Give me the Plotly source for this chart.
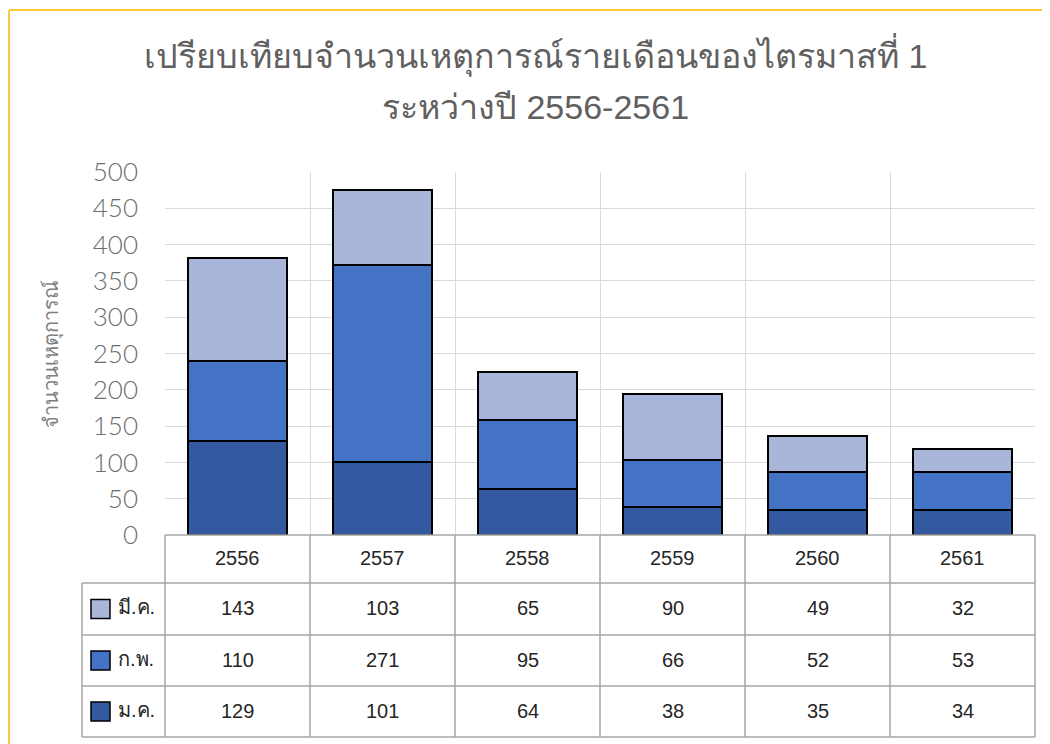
import plotly.graph_objects as go

# data
years = ['2556', '2557', '2558', '2559', '2560', '2561']
months = ['ม.ค.', 'ก.พ.', 'มี.ค.']
jan = [129, 101, 64, 38, 35, 34]
feb = [110, 271, 95, 66, 52, 53]
mar = [143, 103, 65, 90, 49, 32]
colors = ['#335AA1', '#4472C4', '#A9B6DA']

title_lines = ['เปรียบเทียบจำนวนเหตุการณ์รายเดือนของไตรมาสที่ 1', 'ระหว่างปี 2556-2561']
y_title = 'จำนวนเหตุการณ์'

# page body adds an 8px offset, so the figure is drawn 8px smaller
OFF = 8
W, H = 1050 - OFF, 744 - OFF
PL, PR, PT, PB = 165, 1035, 172, 535  # plot area in screen pixels
L, R, T, B = PL - OFF, W - (PR - OFF), PT - OFF, H - (PB - OFF)
pw, ph = PR - PL, PB - PT


def px_x(x):
    return (x - PL) / pw


def px_y(y):
    return (PB - y) / ph


fig = go.Figure()
series = [jan, feb, mar]
for name, vals, col in zip(months, series, colors):
    fig.add_trace(go.Bar(
        x=years, y=vals, name=name,
        marker=dict(color=col, line=dict(color='black', width=2)),
        width=0.68,
    ))

fig.update_layout(
    barmode='stack',
    width=W, height=H,
    margin=dict(l=L, r=R, t=T, b=B, autoexpand=False),
    paper_bgcolor='white', plot_bgcolor='white',
    showlegend=False,
    font=dict(family='Liberation Sans, Arial, sans-serif', color='#595959'),
)
fig.update_xaxes(
    type='category', tickson='boundaries', showgrid=True, gridcolor='#D9D9D9',
    gridwidth=1, showticklabels=False, showline=False, zeroline=False,
    range=[-0.5, len(years) - 0.5],
)
fig.update_yaxes(
    range=[0, 500], dtick=50, showgrid=True, gridcolor='#D9D9D9',
    zeroline=False, showline=False,
    tickfont=dict(size=26, color='#6E6E6E', family='Lato, Liberation Sans, sans-serif',
                  weight=300),
    ticklabelstandoff=26,
    title=dict(text=y_title, font=dict(size=20, color='#7F7F7F'), standoff=28),
)

# title
for line, yc in zip(title_lines, [55, 107]):
    fig.add_annotation(x=px_x(535), xref='paper', y=px_y(yc), yref='paper',
                       xanchor='center', yanchor='middle',
                       text=line, showarrow=False,
                       font=dict(size=34, color='#606060'))

# data table under the plot
grid = dict(color='#A6A6A6', width=1.5)
row_edges = [535, 583, 635, 686, 737]
xl = px_x(82)
for i, ye in enumerate(row_edges):
    x0 = 0 if i == 0 else xl
    fig.add_shape(type='line', xref='paper', yref='paper', x0=x0, x1=1,
                  y0=px_y(ye), y1=px_y(ye), line=grid)
for k in range(len(years) + 1):
    xp = k / len(years)
    fig.add_shape(type='line', xref='paper', yref='paper', x0=xp, x1=xp,
                  y0=px_y(535), y1=px_y(737), line=grid)
fig.add_shape(type='line', xref='paper', yref='paper', x0=xl, x1=xl,
              y0=px_y(583), y1=px_y(737), line=grid)

tfont = dict(size=20, color='#262626', family='Liberation Sans, Arial, sans-serif')
for i, yr in enumerate(years):
    fig.add_annotation(x=i, xref='x', y=px_y(558), yref='paper', text=yr,
                       xanchor='center', yanchor='middle',
                       showarrow=False, font=tfont)

rows = [('มี.ค.', mar, colors[2]), ('ก.พ.', feb, colors[1]), ('ม.ค.', jan, colors[0])]
for r, (name, vals, col) in enumerate(rows):
    yc = (row_edges[r + 1] + row_edges[r + 2]) / 2
    for i, v in enumerate(vals):
        fig.add_annotation(x=i, xref='x', y=px_y(yc - 1), yref='paper', text=str(v),
                           xanchor='center', yanchor='middle',
                           showarrow=False, font=tfont)
    fig.add_shape(type='rect', xref='paper', yref='paper',
                  x0=px_x(91), x1=px_x(110), y0=px_y(yc - 9.5), y1=px_y(yc + 9.5),
                  fillcolor=col, line=dict(color='black', width=1.5))
    fig.add_annotation(x=px_x(116), xref='paper', y=px_y(yc - 2), yref='paper',
                       text=name, showarrow=False, xanchor='left', yanchor='middle',
                       font=dict(size=20, color='#262626'))

# yellow frame of the chart area
frame = dict(color='#F9C940', width=2)
fig.add_shape(type='line', xref='paper', yref='paper', x0=px_x(9), x1=px_x(1050),
              y0=px_y(10), y1=px_y(10), line=frame)
fig.add_shape(type='line', xref='paper', yref='paper', x0=px_x(9), x1=px_x(9),
              y0=px_y(10), y1=px_y(744), line=frame)

fig.write_html('out.html')
